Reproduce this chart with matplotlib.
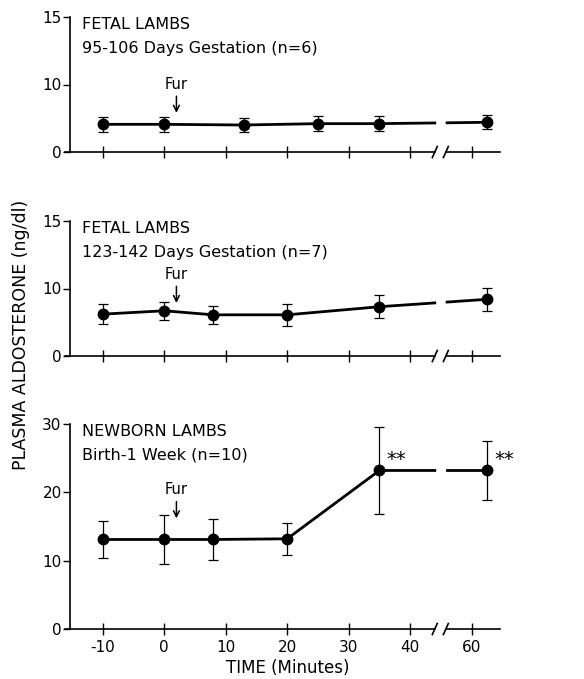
import numpy as np
import matplotlib.pyplot as plt

# time after start (min) vs plasma aldosterone (ng/dl), mean +/- SE
t_fetal1 = [-10, 0, 13, 25, 35, 62.5]
aldo_fetal1 = [4.1, 4.1, 4.0, 4.2, 4.2, 4.4]
se_fetal1 = [1.1, 1.1, 1.1, 1.1, 1.1, 1.05]

t_fetal2 = [-10, 0, 8, 20, 35, 62.5]
aldo_fetal2 = [6.2, 6.7, 6.1, 6.1, 7.3, 8.4]
se_fetal2 = [1.45, 1.35, 1.3, 1.6, 1.7, 1.7]

t_newborn = [-10, 0, 8, 20, 35, 62.5]
aldo_newborn = [13.1, 13.1, 13.1, 13.2, 23.2, 23.2]
se_newborn = [2.7, 3.6, 3.0, 2.3, 6.4, 4.3]
signif_newborn = [False, False, False, False, True, True]

titles = [("FETAL LAMBS", "95-106 Days Gestation (n=6)"),
          ("FETAL LAMBS", "123-142 Days Gestation (n=7)"),
          ("NEWBORN LAMBS", "Birth-1 Week (n=10)")]

xtick_min = [-10, 0, 10, 20, 30, 40, 60]
fur_time = 2

plt.rcParams['font.family'] = 'DejaVu Sans'


def to_pos(t):
    # broken time axis: 40 -> 60 squeezed
    t = np.asarray(t, dtype=float)
    return np.where(t < 50, t, t - 10)


fig = plt.figure(figsize=(5.84, 6.79), dpi=100)
H = 679.0
left, width = 70 / 584, 430 / 584
xmin, xmax = -15.3, 54.6
gap0, gap1 = 44.0, 45.8

ax1 = fig.add_axes([left, 1 - 152 / H, width, 135 / H])
ax2 = fig.add_axes([left, 1 - 356 / H, width, 135 / H])
ax3 = fig.add_axes([left, 1 - 629 / H, width, 205 / H])

panels = [
    (ax1, t_fetal1, aldo_fetal1, se_fetal1, None, (0, 20), [0, 10, 20], ['0', '10', '15'], 5.8),
    (ax2, t_fetal2, aldo_fetal2, se_fetal2, None, (0, 20), [0, 10, 20], ['0', '10', '15'], 7.85),
    (ax3, t_newborn, aldo_newborn, se_newborn, signif_newborn, (0, 30), [0, 10, 20, 30],
     ['0', '10', '20', '30'], 16.2),
]

for i, (ax, t, v, se, sig, ylim, yt, ytl, fur_tip) in enumerate(panels):
    p = to_pos(t)
    v = np.asarray(v)
    # line with a gap at the axis break
    va0 = np.interp(gap0, p, v)
    va1 = np.interp(gap1 + 0.2, p, v)
    m0 = p < gap0
    m1 = p > gap1
    ax.plot(np.r_[p[m0], gap0], np.r_[v[m0], va0], color='k', lw=2)
    ax.plot(np.r_[gap1 + 0.2, p[m1]], np.r_[va1, v[m1]], color='k', lw=2)
    ax.errorbar(p, v, yerr=se, fmt='o', color='k', ms=7.5, capsize=3.5,
                elinewidth=0.9, capthick=0.9, zorder=3)
    if sig is not None:
        for pp, vv, s in zip(p, v, sig):
            if s:
                ax.annotate('**', xy=(pp, vv), xytext=(5, 1), textcoords='offset points',
                            ha='left', va='bottom', fontsize=14)

    ax.set_xlim(xmin, xmax)
    ax.set_ylim(*ylim)
    ax.set_yticks(yt)
    ax.set_yticklabels(ytl, fontsize=11)
    ax.set_xticks(to_pos(xtick_min))
    if ax is ax3:
        ax.set_xticklabels([str(x) for x in xtick_min], fontsize=11)
    else:
        ax.set_xticklabels([])
    ax.tick_params(axis='y', direction='out', length=5, width=1, pad=1)
    ax.tick_params(axis='x', direction='inout', length=8, width=1, pad=4)
    for s in ['top', 'right', 'bottom']:
        ax.spines[s].set_visible(False)
    ax.spines['left'].set_linewidth(1.2)
    ax.patch.set_alpha(0)

    # broken x axis line with slashes
    tr = ax.get_xaxis_transform()
    ax.plot([xmin - 0.8, gap0], [0, 0], color='k', lw=1.2, transform=tr, clip_on=False)
    ax.plot([gap1, xmax], [0, 0], color='k', lw=1.2, transform=tr, clip_on=False)
    hpx = ax.get_position().height * H
    dy = 5.5 / hpx
    for g in (gap0, gap1):
        ax.plot([g - 0.4, g + 0.4], [-dy, dy], color='k', lw=1.2, transform=tr, clip_on=False)

    # panel labels
    l1, l2 = titles[i]
    ax.text(12 / 430, 1 - 12 / hpx, l1, transform=ax.transAxes, fontsize=11.5,
            ha='left', va='baseline')
    ax.text(12 / 430, 1 - 36 / hpx, l2, transform=ax.transAxes, fontsize=11.5,
            ha='left', va='baseline')

    # furosemide arrow
    ax.annotate('Fur', xy=(fur_time, fur_tip), xytext=(0, 15), textcoords='offset points',
                ha='center', va='bottom', fontsize=10.5,
                arrowprops=dict(arrowstyle='->', color='k', lw=1.1, shrinkA=1, shrinkB=0))

fig.text(0.036, 1 - 335 / H, 'PLASMA ALDOSTERONE (ng/dl)', rotation=90,
         ha='center', va='center', fontsize=12.5)
fig.text(0.493, 1 - 668 / H, 'TIME (Minutes)', ha='center', va='center', fontsize=12)

fig.savefig('out.png', dpi=100)
